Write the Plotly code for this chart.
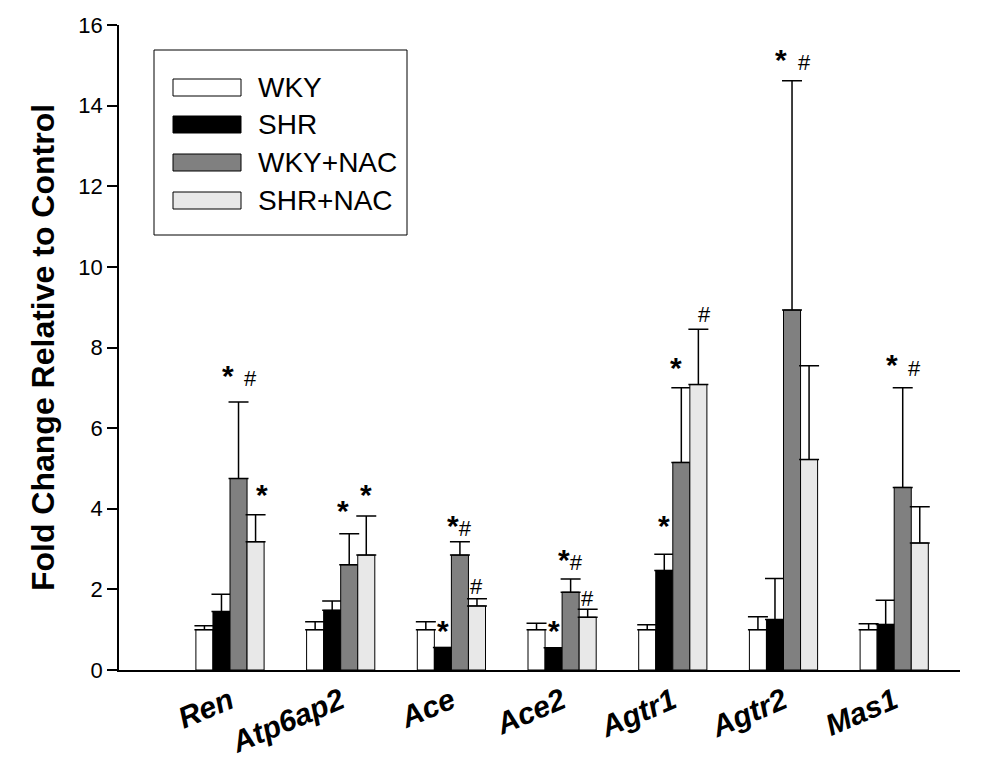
import plotly.graph_objects as go

genes = ["Ren", "Atp6ap2", "Ace", "Ace2", "Agtr1", "Agtr2", "Mas1"]
groups = ["WKY", "SHR", "WKY+NAC", "SHR+NAC"]
colors = ["#ffffff", "#000000", "#808080", "#e8e8e8"]

wky = [1.0, 1.0, 1.0, 1.0, 1.0, 1.0, 1.0]
wky_err = [0.1, 0.2, 0.2, 0.16, 0.12, 0.32, 0.15]
shr = [1.45, 1.48, 0.56, 0.55, 2.47, 1.25, 1.13]
shr_err = [0.43, 0.23, 0.0, 0.0, 0.4, 1.02, 0.6]
wkynac = [4.75, 2.61, 2.85, 1.93, 5.15, 8.93, 4.53]
wkynac_err = [1.9, 0.77, 0.33, 0.33, 1.85, 5.69, 2.47]
shrnac = [3.18, 2.85, 1.59, 1.31, 7.08, 5.22, 3.15]
shrnac_err = [0.67, 0.97, 0.18, 0.2, 1.37, 2.33, 0.9]

values = [wky, shr, wkynac, shrnac]
errors = [wky_err, shr_err, wkynac_err, shrnac_err]

# significance marks: (gene index, bar index, text, y (data units), x shift px)
marks = [
    (0, 2, "*", 6.84, -11), (0, 2, "#", 6.86, 12), (0, 3, "*", 3.89, 6),
    (1, 2, "*", 3.51, -6), (1, 3, "*", 3.89, 0),
    (2, 1, "*", 0.51, 0), (2, 2, "*#", 3.12, 0), (2, 3, "#", 1.70, 0),
    (3, 1, "*", 0.51, 0), (3, 2, "*#", 2.27, 0), (3, 3, "#", 1.41, 0),
    (4, 1, "*", 3.12, 0), (4, 2, "*", 7.04, -5), (4, 3, "#", 8.45, 6),
    (5, 2, "*", 14.68, -11), (5, 2, "#", 14.70, 12),
    (6, 2, "*", 7.11, -11), (6, 2, "#", 7.13, 12),
]

FONT = "Arial, Liberation Sans, sans-serif"
bar_w = 0.154  # data units per bar

# page has an 8px body margin; all screen positions below are compensated
OFF = 8
W, H = 994 - OFF, 758 - OFF
AX_L, AX_R, AX_T, AX_B = 119, 960, 25, 670  # screen px of plot area
ml, mt = AX_L - OFF, AX_T - OFF
mr = W - (AX_R - OFF)
mb = H - (AX_B - OFF)
pw, ph = AX_R - AX_L, AX_B - AX_T

fig = go.Figure()
x_idx = list(range(len(genes)))
for g, (name, col, vals, errs) in enumerate(zip(groups, colors, values, errors)):
    fig.add_trace(go.Bar(
        x=[i + (g - 1.5) * bar_w for i in x_idx],
        y=vals,
        width=bar_w,
        name=name,
        marker=dict(color=col, line=dict(color="black", width=1)),
        error_y=dict(type="data", symmetric=False, array=errs,
                     arrayminus=[0] * len(errs), color="black",
                     thickness=1.5, width=10),
        showlegend=False,
    ))

annotations = []
for gi, bi, txt, yv, dx in marks:
    xoff = (bi - 1.5) * bar_w
    parts = []
    for ch in txt:
        if ch == "*":
            parts.append("<span style='font-size:30px'><b>*</b></span>")
        else:
            parts.append("<span style='font-size:22px'>#</span>")
    annotations.append(dict(
        x=gi + xoff, y=yv, xref="x", yref="y", text="".join(parts),
        showarrow=False, xshift=dx, font=dict(family=FONT, color="black"),
        yanchor="bottom",
    ))


def px(xs):
    return (xs - AX_L) / pw


def py(ys):
    return 1 - (ys - AX_T) / ph


# legend drawn manually (screen px)
lx0, lx1, ly0, ly1 = 154, 407, 50, 235
shapes = [dict(type="rect", xref="paper", yref="paper", x0=px(lx0), x1=px(lx1),
               y0=py(ly1), y1=py(ly0), line=dict(color="black", width=1),
               fillcolor="white")]
sw_tops = [79, 116, 154, 192]
for name, col, t in zip(groups, colors, sw_tops):
    shapes.append(dict(type="rect", xref="paper", yref="paper",
                       x0=px(173), x1=px(241), y0=py(t + 17), y1=py(t),
                       line=dict(color="black", width=1), fillcolor=col))
    annotations.append(dict(x=px(256), y=py(t + 8.5), xref="paper", yref="paper",
                            text=name, showarrow=False, xanchor="left",
                            yanchor="middle",
                            font=dict(family=FONT, size=28, color="black")))

x_left = -(230 - AX_L) / 110.7
x_right = (AX_R - 230) / 110.7

fig.update_layout(
    width=W, height=H,
    margin=dict(l=ml, r=mr, t=mt, b=mb),
    paper_bgcolor="white", plot_bgcolor="white",
    barmode="overlay",
    shapes=shapes,
    annotations=annotations,
    showlegend=False,
    font=dict(family=FONT, color="black"),
)
fig.update_xaxes(
    range=[x_left, x_right],
    tickmode="array", tickvals=x_idx,
    ticktext=[f"<b><i>{g}</i></b>" for g in genes],
    tickangle=-23,
    tickfont=dict(family=FONT, size=30, color="black"),
    showline=True, linecolor="black", linewidth=2,
    ticks="", showgrid=False, zeroline=False, automargin=False,
)
fig.update_yaxes(
    range=[0, 16], tickmode="linear", dtick=2, tick0=0,
    tickfont=dict(family=FONT, size=22, color="black"),
    ticks="outside", ticklen=10, tickwidth=1.5, tickcolor="black",
    showline=True, linecolor="black", linewidth=1.5,
    showgrid=False, zeroline=False, automargin=False,
    title=dict(text="<b>Fold Change Relative to Control</b>",
               font=dict(family=FONT, size=32, color="black"), standoff=14),
)
fig.write_html("out.html")
